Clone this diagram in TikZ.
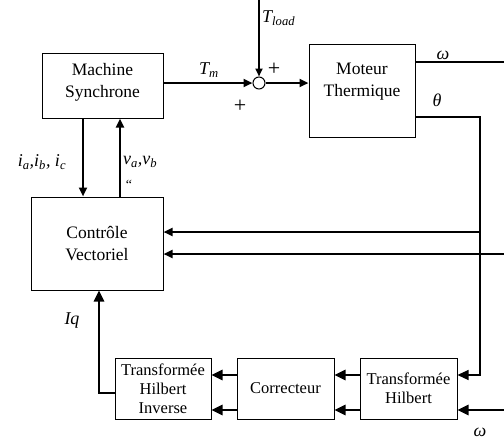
\documentclass[tikz,border=0pt]{standalone}
\usepackage{fontspec}
\setmainfont{Liberation Serif}
\usetikzlibrary{arrows.meta,positioning}

\begin{document}
\begin{tikzpicture}[x=1pt,y=-1pt,>={Triangle[length=11pt,width=10pt]},
block/.style={draw,line width=1pt,align=center,font=\fontsize{17.5}{22}\selectfont,inner sep=2pt},
small/.style={block,font=\fontsize{16.5}{19}\selectfont,minimum width=97pt,minimum height=61pt},
sig/.style={line width=2.5pt,->},
wire/.style={line width=1.1pt},
lab/.style={font=\fontsize{18}{20}\selectfont\itshape,inner sep=1pt},
plus/.style={font=\fontsize{22}{24}\selectfont,inner sep=1pt}]
\useasboundingbox (0,0) rectangle (504,442);
% blocks
\node[block,minimum width=121pt,minimum height=65pt] (machine) at (102.5,85.5) {Machine\\Synchrone\\[-12pt]\mbox{}};
\node[block,minimum width=106pt,minimum height=93pt] (moteur) at (362,90.5) {Moteur\\Thermique\\\mbox{}};
\node[block,minimum width=132pt,minimum height=93pt] (vect) at (97,243.5) {Contrôle\\Vectoriel};
\node[small,minimum width=96pt] (inv) at (163,388.5) {Transformée\\Hilbert\\Inverse};
\node[small,right=25pt of inv] (corr) {Correcteur};
\node[small,right=25pt of corr] (hilbert) {Transformée\\Hilbert};
\node[circle,draw,line width=1pt,minimum size=12pt,inner sep=0pt] (sum) at (259,83) {};
% helper levels
\coordinate (loadin) at (259,0);
\coordinate (wout) at (504,62);
\coordinate (tcorner) at (480,117);
\coordinate (rowC) at (0,232);
\coordinate (wfb) at (504,254);
\coordinate (rowA) at (0,375);
\coordinate (wbot) at (504,410);
\coordinate (rowIq) at (0,393);
\coordinate (colI) at (83,0);
\coordinate (colV) at (120,0);
\coordinate (colQ) at (99,0);
% torque summation
\draw[sig,>={Triangle[length=8pt,width=7pt]}] (loadin) -- (sum);
\draw[sig,>={Triangle[length=9pt,width=8pt]}] (machine.east |- sum) -- (sum);
\draw[sig,>={Triangle[length=9pt,width=8pt]}] (sum) -- (moteur.west |- sum);
\node[lab,anchor=west] (tload) at (261,18) {T\textsubscript{load}};
\node[lab] (tm) at (209,70) {T\textsubscript{m}};
\node[plus] (plusA) at (274,69) {+};
\node[plus] (plusB) at (240,106) {+};
% outputs of the engine
\draw[wire] (moteur.east |- wout) -- (wout);
\node[lab] (wtop) at (443,55) {ω};
\draw[wire,->] (moteur.east |- tcorner) -- (tcorner) |- (hilbert.east |- rowA);
\node[lab] (theta) at (437,100) {θ};
% feedback into the vector control
\draw[sig,>={Triangle[length=9pt,width=8pt]}] (tcorner |- rowC) -- (vect.east |- rowC);
\draw[sig,>={Triangle[length=9pt,width=8pt]}] (wfb) -- (vect.east |- wfb);
% machine currents and voltages
\draw[sig,>={Triangle[length=9pt,width=8pt]}] (machine.south -| colI) -- (vect.north -| colI);
\draw[sig,>={Triangle[length=9pt,width=8pt]}] (vect.north -| colV) -- (machine.south -| colV);
\node[lab] (iabc) at (42,162) {i\textsubscript{a},i\textsubscript{b}, i\textsubscript{c}};
\node[lab,anchor=west] (vab) at (122,162) {v\textsubscript{a},v\textsubscript{b}};
\node[lab,font=\fontsize{14}{16}\selectfont] (vdots) at (129,185) {``};
% Hilbert chain
\draw[sig] (hilbert.west |- rowA) -- (corr.east |- rowA);
\draw[sig] (hilbert.west |- wbot) -- (corr.east |- wbot);
\draw[sig] (corr.west |- rowA) -- (inv.east |- rowA);
\draw[sig] (corr.west |- wbot) -- (inv.east |- wbot);
\draw[sig] (wbot) -- (hilbert.east |- wbot);
\node[lab] (wbl) at (480,432) {ω};
\draw[sig] (inv.west |- rowIq) -| (colQ |- vect.south);
\node[lab] (iq) at (72,321) {Iq};
\end{tikzpicture}
\end{document}
